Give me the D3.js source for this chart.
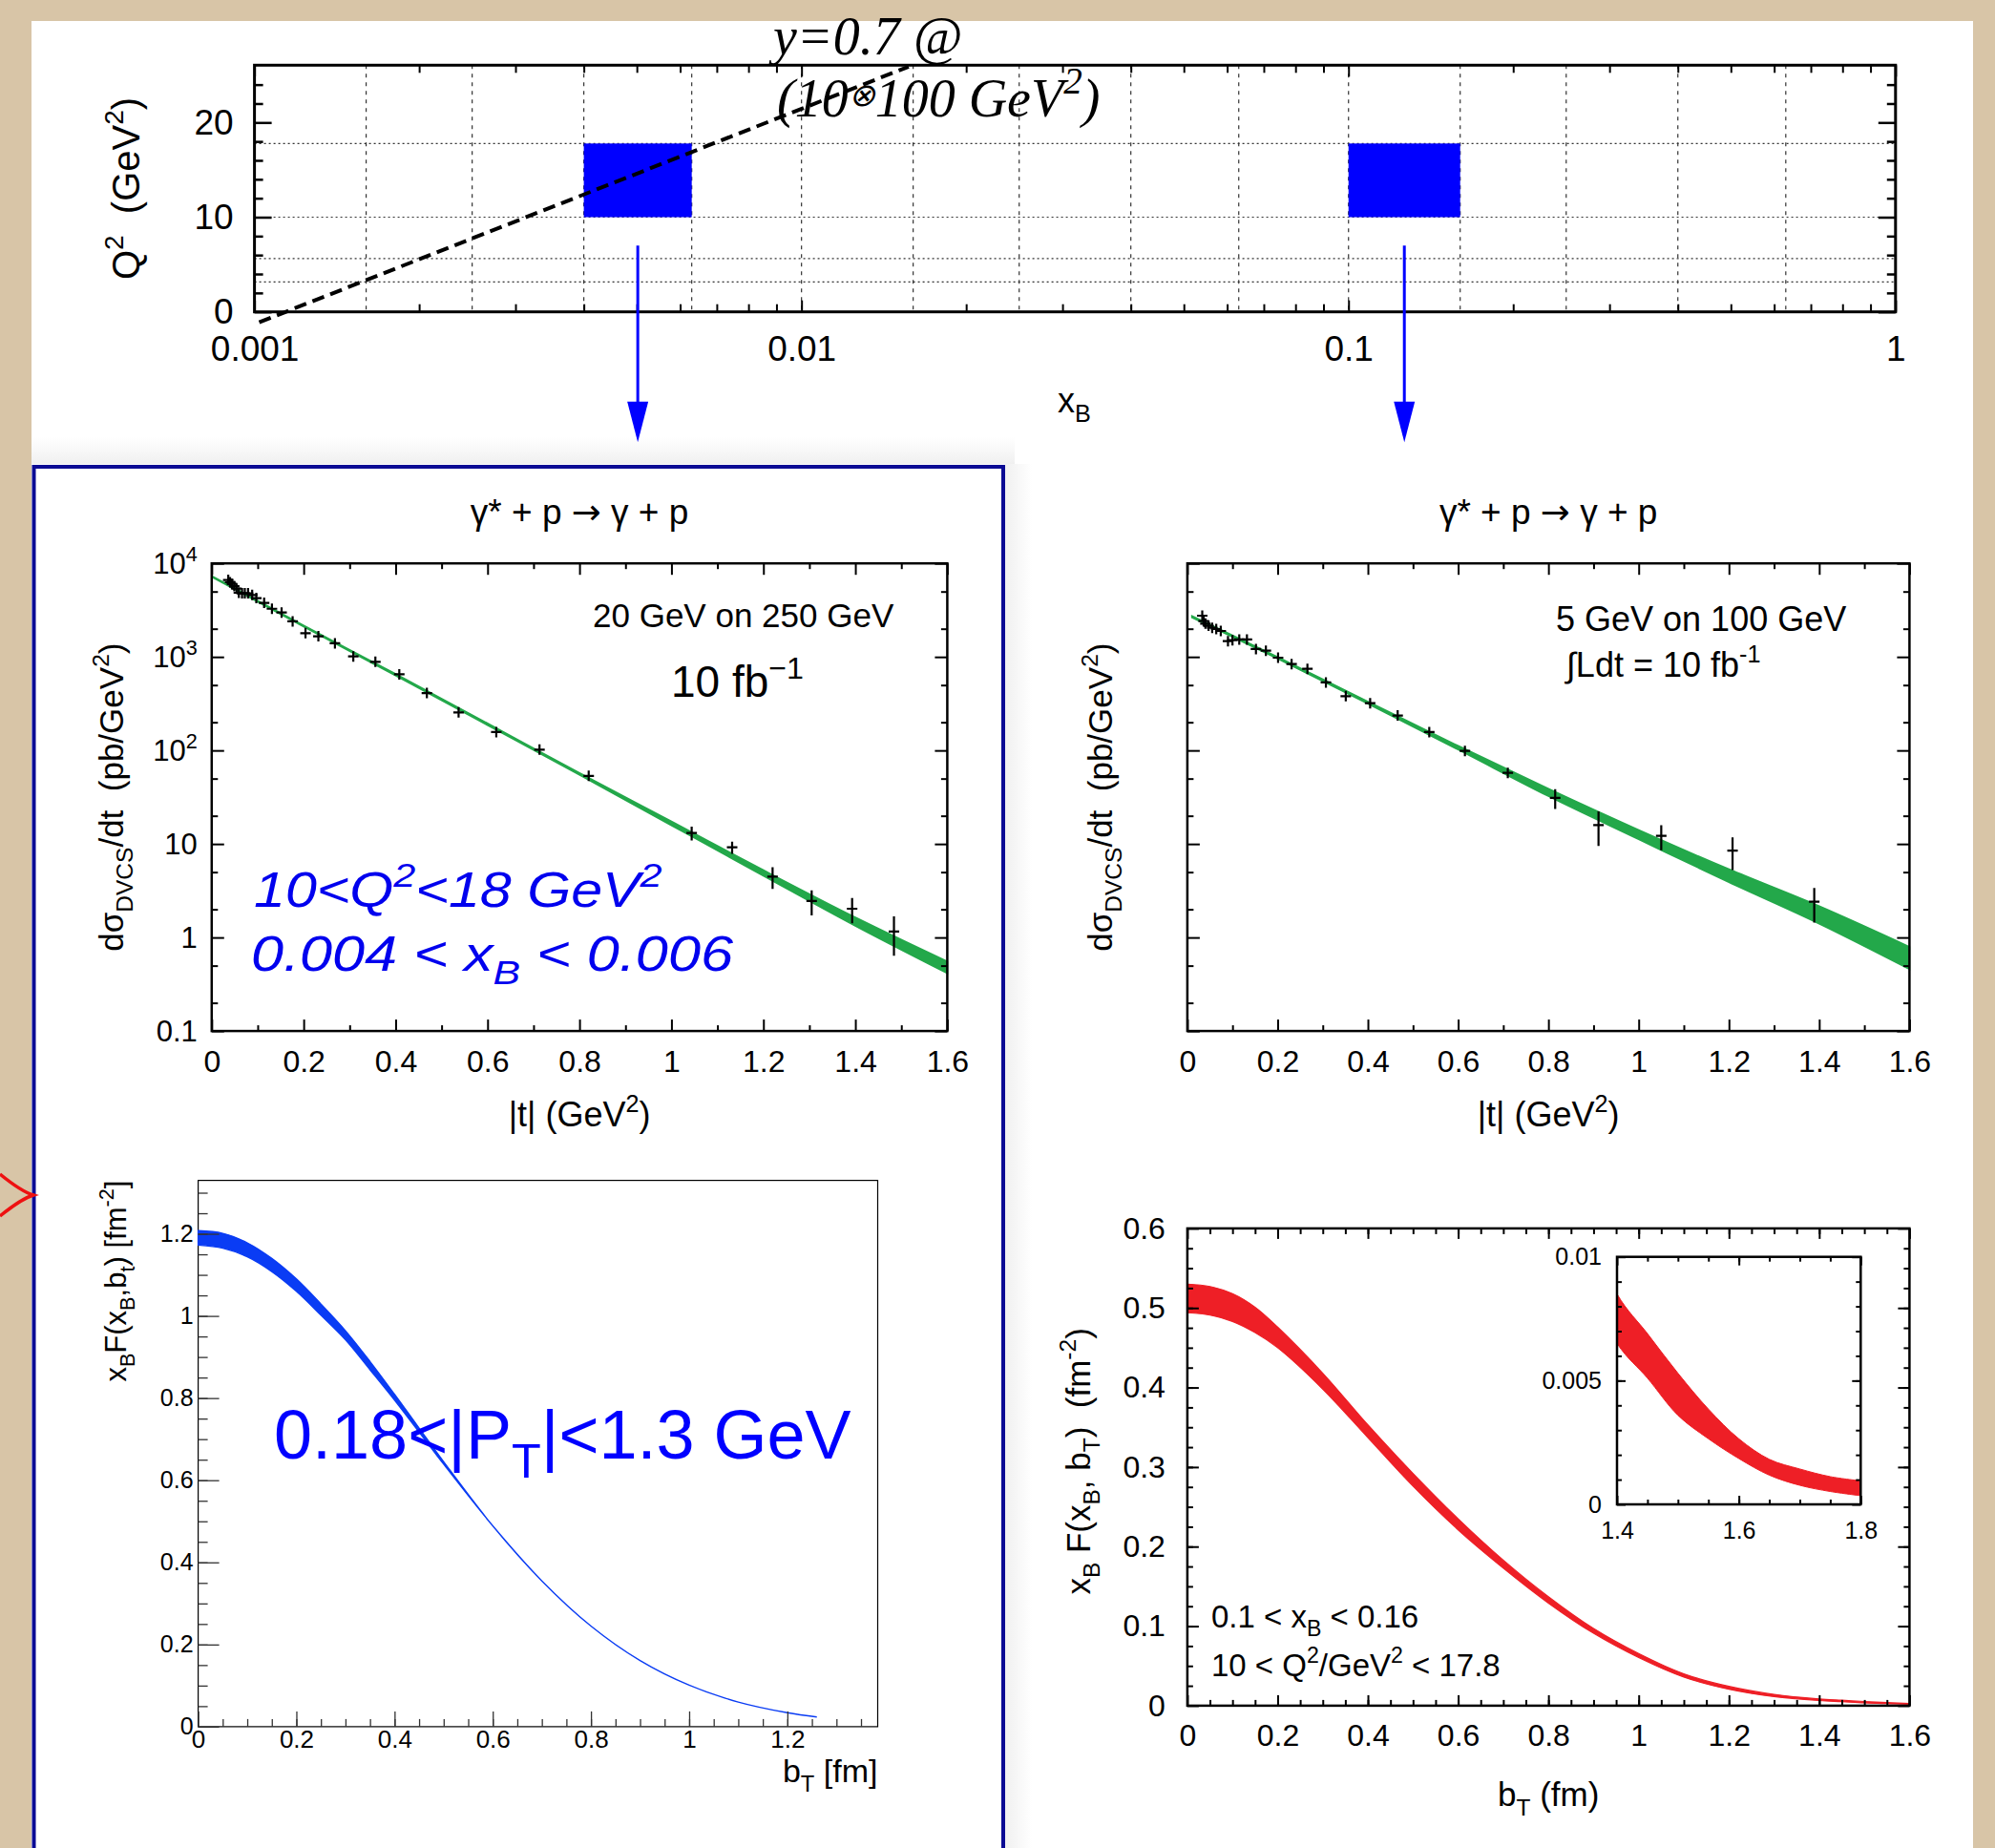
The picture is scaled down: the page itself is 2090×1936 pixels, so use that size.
<!DOCTYPE html>
<html><head><meta charset="utf-8">
<script src="https://cdn.jsdelivr.net/npm/d3@7"></script>
<style>
html,body{margin:0;padding:0;background:#d8c5a7;}
svg{display:block;}
</style></head><body>
<svg id="chart" width="2090" height="1936"></svg>
<script>
// ---------------- DATA ----------------
// Top panel: kinematic plane
const xbMajorTicks = [0.001, 0.01, 0.1, 1];
const xbTickLabels = ["0.001", "0.01", "0.1", "1"];
const q2MajorTicks = [0, 10, 20];
const q2TickLabels = ["0", "10", "20"];
const xbGrid = [0.0016, 0.0025, 0.004, 0.0063, 0.01, 0.016, 0.025, 0.04, 0.063, 0.1, 0.16, 0.25, 0.4, 0.63];
const q2Grid = [3.16, 5.62, 10, 17.78];
const binXLo = [0.004, 0.1];
const binXHi = [0.0063, 0.16];
const binQ2Lo = [10, 10];
const binQ2Hi = [17.78, 17.78];
const yLineXB = [0.00102, 0.0157];
const yLineQ2 = [-1.1, 25.9];
const arrowStartQ2 = 7;

// DVCS cross sections
const tMajorTicks = [0, 0.2, 0.4, 0.6, 0.8, 1, 1.2, 1.4, 1.6];
const tTickLabels = ["0", "0.2", "0.4", "0.6", "0.8", "1", "1.2", "1.4", "1.6"];
const sigMajorTicks = [0.1, 1, 10, 100, 1000, 10000];
const sigTickBase = ["0.1", "1", "10", "10", "10", "10"];
const sigTickExp = ["", "", "", "2", "3", "4"];

const tLeft = [0.036, 0.040, 0.044, 0.049, 0.054, 0.059, 0.066, 0.072, 0.079, 0.088, 0.097, 0.114, 0.131, 0.152, 0.176, 0.204, 0.232, 0.268, 0.308, 0.356, 0.408, 0.468, 0.537, 0.619, 0.713, 0.820, 1.044, 1.132, 1.220, 1.305, 1.393, 1.484];
const sigLeft = [6640, 6280, 6040, 5700, 5370, 4850, 4780, 4780, 4780, 4590, 4250, 3780, 3270, 2980, 2400, 1795, 1660, 1397, 1012, 887, 652, 410, 255, 157, 102, 53.4, 13.1, 9.2, 4.47, 2.46, 2.03, 1.16];
const errLeft = [0.05, 0.05, 0.05, 0.05, 0.05, 0.05, 0.05, 0.05, 0.05, 0.05, 0.05, 0.05, 0.05, 0.05, 0.05, 0.05, 0.05, 0.05, 0.05, 0.05, 0.05, 0.05, 0.05, 0.05, 0.05, 0.07, 0.17, 0.15, 0.26, 0.30, 0.30, 0.45];
const bandTLeft = [0, 0.2, 0.4, 0.6, 0.8, 1.0, 1.2, 1.4, 1.6];
const bandLoLeft = [7145, 2109, 630, 186, 54.7, 15.8, 4.57, 1.33, 0.414];
const bandHiLeft = [7345, 2168, 657, 195, 57.5, 17.4, 5.25, 1.64, 0.554];

const tRight = [0.033, 0.036, 0.040, 0.047, 0.055, 0.064, 0.074, 0.090, 0.100, 0.115, 0.132, 0.152, 0.174, 0.201, 0.231, 0.266, 0.307, 0.351, 0.405, 0.466, 0.536, 0.615, 0.710, 0.815, 0.911, 1.050, 1.208, 1.389];
const sigRight = [2760, 2415, 2270, 2150, 2050, 1985, 1895, 1473, 1510, 1535, 1535, 1213, 1165, 981, 838, 745, 533, 380, 320, 236, 157, 98.7, 57.5, 31.1, 15.9, 12.2, 8.5, 2.41];
const errRight = [0.12, 0.05, 0.05, 0.05, 0.05, 0.05, 0.05, 0.05, 0.05, 0.05, 0.05, 0.05, 0.05, 0.05, 0.05, 0.05, 0.05, 0.05, 0.05, 0.05, 0.05, 0.08, 0.12, 0.24, 0.40, 0.30, 0.38, 0.40];
const bandTRight = [0.01, 0.2, 0.4, 0.6, 0.8, 1.0, 1.2, 1.4, 1.6];
const bandLoRight = [2640, 955, 315, 102, 32.4, 11.2, 3.89, 1.40, 0.457];
const bandHiRight = [2740, 1000, 333, 112, 38.9, 14.1, 5.37, 2.16, 0.794];

// Impact-parameter densities
const bBlue = [0, 0.05, 0.1, 0.15, 0.2, 0.25, 0.3, 0.35, 0.4, 0.45, 0.5, 0.6, 0.7, 0.8, 0.9, 1.0, 1.1, 1.2, 1.26];
const loBlue = [1.1725, 1.165, 1.144, 1.108, 1.060, 1.002, 0.942, 0.869, 0.795, 0.717, 0.639, 0.489, 0.355, 0.245, 0.161, 0.101, 0.060, 0.034, 0.0236];
const hiBlue = [1.2075, 1.201, 1.178, 1.140, 1.090, 1.029, 0.964, 0.889, 0.809, 0.727, 0.645, 0.489, 0.355, 0.245, 0.161, 0.101, 0.060, 0.034, 0.0236];
const bBlueMajor = [0, 0.2, 0.4, 0.6, 0.8, 1, 1.2];
const bBlueLabels = ["0", "0.2", "0.4", "0.6", "0.8", "1", "1.2"];
const fBlueMajor = [0, 0.2, 0.4, 0.6, 0.8, 1, 1.2];
const fBlueLabels = ["0", "0.2", "0.4", "0.6", "0.8", "1", "1.2"];

const bRed = [0, 0.05, 0.1, 0.15, 0.2, 0.3, 0.4, 0.5, 0.6, 0.7, 0.8, 0.9, 1.0, 1.1, 1.2, 1.3, 1.4, 1.45, 1.5, 1.55, 1.6, 1.65, 1.7, 1.75, 1.8];
const hiRed = [0.530, 0.527, 0.518, 0.501, 0.476, 0.418, 0.353, 0.292, 0.235, 0.183, 0.137, 0.097, 0.0655, 0.040, 0.0243, 0.0142, 0.0085, 0.0069, 0.0053, 0.00385, 0.00265, 0.00182, 0.00143, 0.00112, 0.00095];
const loRed = [0.494, 0.491, 0.483, 0.469, 0.450, 0.398, 0.337, 0.276, 0.221, 0.173, 0.129, 0.091, 0.0605, 0.036, 0.0207, 0.0114, 0.0065, 0.0051, 0.0036, 0.00265, 0.00185, 0.00118, 0.00077, 0.00052, 0.00035];
const fRedMajor = [0, 0.1, 0.2, 0.3, 0.4, 0.5, 0.6];
const fRedLabels = ["0", "0.1", "0.2", "0.3", "0.4", "0.5", "0.6"];
const insetBMajor = [1.4, 1.6, 1.8];
const insetBLabels = ["1.4", "1.6", "1.8"];
const insetFMajor = [0, 0.005, 0.01];
const insetFLabels = ["0", "0.005", "0.01"];

// ---------------- HELPERS ----------------
const SANS = "'Liberation Sans', Arial, Helvetica, sans-serif";
const SERIF = "'Liberation Serif', 'Times New Roman', serif";
const svg = d3.select("#chart");
const smooth = d3.curveCatmullRom.alpha(0.5);

function rich(t, parts, fs) {
  let shift = 0;
  parts.forEach(p => {
    const kind = p[1] || "";
    const ts = t.append("tspan").text(p[0]);
    if (p[2]) Object.entries(p[2]).forEach(([k, v]) => ts.attr(k, v));
    let target = 0;
    if (kind === "sub") { target = 0.28 * fs; ts.attr("font-size", 0.7 * fs); }
    else if (kind === "sup") { target = -0.42 * fs; ts.attr("font-size", 0.7 * fs); }
    else if (kind === "mid") { target = -0.2 * fs; ts.attr("font-size", 0.6 * fs); }
    const dy = target - shift;
    if (Math.abs(dy) > 1e-9) ts.attr("dy", dy);
    shift = target;
  });
}
function label(parent, x, y, parts, fs, o = {}) {
  const t = parent.append("text").attr("x", x).attr("y", y)
    .attr("font-size", fs).attr("font-family", o.family || SANS)
    .attr("fill", o.fill || "#000").attr("text-anchor", o.anchor || "start");
  if (o.italic) t.attr("font-style", "italic");
  if (o.rotate) t.attr("transform", `rotate(-90,${x},${y})`);
  if (o.transform) t.attr("transform", o.transform);
  rich(t, parts, fs);
  return t;
}
function axisG(parent, axis, tx, ty, fs, sw, color) {
  const g = parent.append("g").attr("transform", `translate(${tx},${ty})`).call(axis);
  g.select(".domain").remove();
  g.attr("font-family", SANS).attr("font-size", fs);
  g.selectAll(".tick line").attr("stroke", color || "#000").attr("stroke-width", sw);
  g.selectAll(".tick text").attr("fill", "#000");
  return g;
}
const noFmt = () => "";

// ---------------- BACKGROUND ----------------
const defs = svg.append("defs");
const gv = defs.append("linearGradient").attr("id", "shadeV").attr("x1", 0).attr("y1", 0).attr("x2", 0).attr("y2", 1);
gv.append("stop").attr("offset", 0).attr("stop-color", "#fff");
gv.append("stop").attr("offset", 1).attr("stop-color", "#f0f0f0");
const gh = defs.append("linearGradient").attr("id", "shadeH").attr("x1", 0).attr("y1", 0).attr("x2", 1).attr("y2", 0);
gh.append("stop").attr("offset", 0).attr("stop-color", "#f0f0f0");
gh.append("stop").attr("offset", 1).attr("stop-color", "#fff");
svg.append("rect").attr("width", 2090).attr("height", 1936).attr("fill", "#d8c5a7");
svg.append("rect").attr("x", 33).attr("y", 22).attr("width", 2034).attr("height", 1914).attr("fill", "#fff");
svg.append("rect").attr("x", 33).attr("y", 458).attr("width", 1030).attr("height", 28).attr("fill", "url(#shadeV)");
svg.append("rect").attr("x", 1053).attr("y", 486).attr("width", 28).attr("height", 1450).attr("fill", "url(#shadeH)");

// ---------------- TOP PANEL ----------------
{
  const P = { x0: 266.6, x1: 1985.8, y0: 68.3, y1: 326.7 };
  const x = d3.scaleLog().domain([0.001, 1]).range([P.x0, P.x1]);
  const y = d3.scaleLinear().domain([0, 26.05]).range([P.y1, P.y0]);
  const g = svg.append("g");
  g.selectAll(".vg").data(xbGrid).join("line")
    .attr("x1", d => x(d)).attr("x2", d => x(d)).attr("y1", P.y0).attr("y2", P.y1)
    .attr("stroke", "#333").attr("stroke-width", 1.2).attr("stroke-dasharray", "4,5");
  g.selectAll(".hg").data(q2Grid).join("line")
    .attr("x1", P.x0).attr("x2", P.x1).attr("y1", d => y(d)).attr("y2", d => y(d))
    .attr("stroke", "#333").attr("stroke-width", 1.2).attr("stroke-dasharray", "2,3");
  g.selectAll(".bin").data(binXLo).join("rect")
    .attr("x", (d, i) => x(binXLo[i])).attr("width", (d, i) => x(binXHi[i]) - x(binXLo[i]))
    .attr("y", (d, i) => y(binQ2Hi[i])).attr("height", (d, i) => y(binQ2Lo[i]) - y(binQ2Hi[i]))
    .attr("fill", "#0000ff");
  g.append("line")
    .attr("x1", x(yLineXB[0])).attr("y1", y(yLineQ2[0]))
    .attr("x2", x(yLineXB[1])).attr("y2", y(yLineQ2[1]))
    .attr("stroke", "#000").attr("stroke-width", 4).attr("stroke-dasharray", "13,7");
  const minorX = [];
  [-3, -2, -1].forEach(k => { for (let m = 2; m <= 9; m++) minorX.push(m * Math.pow(10, k)); });
  const minorY = d3.range(2, 26, 2).filter(v => v % 10 !== 0);
  axisG(g, d3.axisBottom(x).tickValues(xbMajorTicks).tickSize(-12).tickPadding(25).tickFormat((d, i) => xbTickLabels[i]), 0, P.y1, 37, 2);
  axisG(g, d3.axisBottom(x).tickValues(minorX).tickSize(-8).tickFormat(noFmt), 0, P.y1, 37, 2);
  axisG(g, d3.axisTop(x).tickValues(xbMajorTicks).tickSize(-12).tickFormat(noFmt), 0, P.y0, 37, 2);
  axisG(g, d3.axisTop(x).tickValues(minorX).tickSize(-8).tickFormat(noFmt), 0, P.y0, 37, 2);
  axisG(g, d3.axisLeft(y).tickValues(q2MajorTicks).tickSize(-18).tickPadding(22).tickFormat((d, i) => q2TickLabels[i]), P.x0, 0, 37, 2.5);
  axisG(g, d3.axisLeft(y).tickValues(minorY).tickSize(-9).tickFormat(noFmt), P.x0, 0, 37, 2.5);
  axisG(g, d3.axisRight(y).tickValues(q2MajorTicks).tickSize(-18).tickFormat(noFmt), P.x1, 0, 37, 2.5);
  axisG(g, d3.axisRight(y).tickValues(minorY).tickSize(-9).tickFormat(noFmt), P.x1, 0, 37, 2.5);
  g.append("rect").attr("x", P.x0).attr("y", P.y0).attr("width", P.x1 - P.x0).attr("height", P.y1 - P.y0)
    .attr("fill", "none").attr("stroke", "#000").attr("stroke-width", 3);
  label(g, 146, (P.y0 + P.y1) / 2, [["Q"], ["2", "sup"], ["\u00A0\u00A0(GeV"], ["2", "sup"], [")"]], 40, { anchor: "middle", rotate: true });
  label(g, 1108, 432, [["x"], ["B", "sub"]], 36);
  label(g, 810, 57, [["y=0.7 @"]], 56, { family: SERIF, italic: true });
  label(g, 814, 122, [["(10"], ["\u2297", "mid"], ["100 GeV"], ["2", "sup"], [")"]], 56, { family: SERIF, italic: true });
  binXLo.forEach((lo, i) => {
    const cx = x(Math.sqrt(binXLo[i] * binXHi[i]));
    const ys = y(arrowStartQ2);
    g.append("line").attr("x1", cx).attr("x2", cx).attr("y1", ys).attr("y2", 425)
      .attr("stroke", "#0000ff").attr("stroke-width", 3);
    g.append("path").attr("d", `M${cx - 11},420.7L${cx + 11},420.7L${cx},463.3Z`).attr("fill", "#0000ff");
  });
}

// ---------------- BLUE BOX + RED BRACE ----------------
svg.append("rect").attr("x", 35.5).attr("y", 489).attr("width", 1015.5).attr("height", 1500)
  .attr("fill", "#fff").attr("stroke", "#0b0b94").attr("stroke-width", 4);
svg.append("path").attr("d", "M0,1230 Q22,1248 35,1252 Q22,1256 0,1274")
  .attr("fill", "none").attr("stroke", "#ee1111").attr("stroke-width", 3.5);

// ---------------- DVCS PANELS ----------------
function dvcsPanel(P, ts, sig, err, bT, bLo, bHi, showY) {
  const x = d3.scaleLinear().domain([0, 1.6]).range([P.x0, P.x1]);
  const y = d3.scaleLog().domain([0.1, 1e4]).range([P.y1, P.y0]);
  const g = svg.append("g");
  const area = d3.area().x((d, i) => x(bT[i])).y0((d, i) => y(bLo[i])).y1((d, i) => y(bHi[i])).curve(d3.curveMonotoneX);
  g.append("path").datum(bT).attr("d", area).attr("fill", "#23a84a").attr("stroke", "#23a84a").attr("stroke-width", 1.6);
  ts.forEach((t, i) => {
    const cx = x(t), cy = y(sig[i]);
    const up = Math.min(y(sig[i] * (1 + err[i])), cy - 5.5);
    const dn = Math.max(y(sig[i] * (1 - err[i])), cy + 5.5);
    g.append("path").attr("d", `M${cx - 5.5},${cy}H${cx + 5.5}M${cx},${up}V${dn}`)
      .attr("stroke", "#000").attr("stroke-width", 2.2).attr("fill", "none");
  });
  const minorT = d3.range(0.1, 1.6, 0.2);
  const minorS = [0.2, 0.5, 2, 5, 20, 50, 200, 500, 2000, 5000];
  axisG(g, d3.axisBottom(x).tickValues(tMajorTicks).tickSize(-12).tickPadding(20).tickFormat((d, i) => tTickLabels[i]), 0, P.y1, 32, 2);
  axisG(g, d3.axisBottom(x).tickValues(minorT).tickSize(-6).tickFormat(noFmt), 0, P.y1, 32, 2);
  axisG(g, d3.axisTop(x).tickValues(tMajorTicks).tickSize(-12).tickFormat(noFmt), 0, P.y0, 32, 2);
  axisG(g, d3.axisTop(x).tickValues(minorT).tickSize(-6).tickFormat(noFmt), 0, P.y0, 32, 2);
  axisG(g, d3.axisLeft(y).tickValues(sigMajorTicks).tickSize(-13).tickFormat(noFmt), P.x0, 0, 32, 2);
  axisG(g, d3.axisLeft(y).tickValues(minorS).tickSize(-6.5).tickFormat(noFmt), P.x0, 0, 32, 2);
  axisG(g, d3.axisRight(y).tickValues(sigMajorTicks).tickSize(-13).tickFormat(noFmt), P.x1, 0, 32, 2);
  axisG(g, d3.axisRight(y).tickValues(minorS).tickSize(-6.5).tickFormat(noFmt), P.x1, 0, 32, 2);
  g.append("rect").attr("x", P.x0).attr("y", P.y0).attr("width", P.x1 - P.x0).attr("height", P.y1 - P.y0)
    .attr("fill", "none").attr("stroke", "#000").attr("stroke-width", 2.5);
  if (showY) {
    sigMajorTicks.forEach((v, i) => {
      const parts = [[sigTickBase[i]]];
      if (sigTickExp[i]) parts.push([sigTickExp[i], "sup"]);
      label(g, P.x0 - 15, y(v) + 11, parts, 31, { anchor: "end" });
    });
  }
  const cx = (P.x0 + P.x1) / 2;
  label(g, cx, 549, [["\u03B3* + p "], ["\u2192", "", { "font-family": "'DejaVu Sans', sans-serif" }], [" \u03B3 + p"]], 37, { anchor: "middle" });
  label(g, cx, 1180, [["|t|\u00A0(GeV"], ["2", "sup"], [")"]], 36, { anchor: "middle" });
  return { g, x, y };
}
{
  const P = { x0: 221.8, x1: 992.4, y0: 590.2, y1: 1080.1 };
  const r = dvcsPanel(P, tLeft, sigLeft, errLeft, bandTLeft, bandLoLeft, bandHiLeft, true);
  label(r.g, 129, (P.y0 + P.y1) / 2, [["d\u03C3"], ["DVCS", "sub"], ["/dt\u00A0\u00A0(pb/GeV"], ["2", "sup"], [")"]], 35, { anchor: "middle", rotate: true });
  label(r.g, 621, 657, [["20 GeV on 250 GeV"]], 35);
  label(r.g, 703, 730, [["10 fb"], ["\u22121", "sup"]], 46);
  label(r.g, 0, 0, [["10<Q"], ["2", "sup"], ["<18 GeV"], ["2", "sup"]], 51, { italic: true, fill: "#0000ee", transform: "translate(266,950) scale(1.16,1)" });
  label(r.g, 0, 0, [["0.004 < x"], ["B", "sub"], [" < 0.006"]], 51, { italic: true, fill: "#0000ee", transform: "translate(263,1017) scale(1.2,1)" });
}
{
  const P = { x0: 1243.9, x1: 2000.4, y0: 590.2, y1: 1080.1 };
  const r = dvcsPanel(P, tRight, sigRight, errRight, bandTRight, bandLoRight, bandHiRight, false);
  label(r.g, 1165, (P.y0 + P.y1) / 2, [["d\u03C3"], ["DVCS", "sub"], ["/dt\u00A0\u00A0(pb/GeV"], ["2", "sup"], [")"]], 35, { anchor: "middle", rotate: true });
  label(r.g, 1630, 661, [["5 GeV on 100 GeV"]], 36);
  label(r.g, 1641, 709, [["\u222BLdt = 10 fb"], ["-1", "sup"]], 36);
}

// ---------------- BOTTOM LEFT (blue band) ----------------
{
  const P = { x0: 207.6, x1: 919.5, y0: 1236.6, y1: 1808.9 };
  const x = d3.scaleLinear().domain([0, 1.384]).range([P.x0, P.x1]);
  const y = d3.scaleLinear().domain([0, 1.33]).range([P.y1, P.y0]);
  const g = svg.append("g");
  g.append("rect").attr("x", P.x0).attr("y", P.y0).attr("width", P.x1 - P.x0).attr("height", P.y1 - P.y0)
    .attr("fill", "none").attr("stroke", "#000").attr("stroke-width", 1.2);
  const area = d3.area().x((d, i) => x(bBlue[i])).y0((d, i) => y(loBlue[i])).y1((d, i) => y(hiBlue[i])).curve(smooth);
  g.append("path").datum(bBlue).attr("d", area).attr("fill", "#0a3cf4").attr("stroke", "#0a3cf4").attr("stroke-width", 1.4);
  const minorB = d3.range(0.05, 1.38, 0.05);
  const minorF = d3.range(0.05, 1.33, 0.05);
  axisG(g, d3.axisBottom(x).tickValues(bBlueMajor).tickSize(-16).tickPadding(4).tickFormat((d, i) => bBlueLabels[i]), 0, P.y1, 26, 1.3, "#333");
  axisG(g, d3.axisBottom(x).tickValues(minorB).tickSize(-8).tickFormat(noFmt), 0, P.y1, 26, 1.3, "#333");
  axisG(g, d3.axisLeft(y).tickValues(fBlueMajor).tickSize(-22).tickPadding(5).tickFormat((d, i) => fBlueLabels[i]), P.x0, 0, 25, 1.3, "#333");
  axisG(g, d3.axisLeft(y).tickValues(minorF).tickSize(-10).tickFormat(noFmt), P.x0, 0, 25, 1.3, "#333");
  label(g, P.x1, 1867, [["b"], ["T", "sub"], [" [fm]"]], 34, { anchor: "end" });
  label(g, 132, P.y0, [["x"], ["B", "sub"], ["F(x"], ["B", "sub"], [",b"], ["t", "sub"], [") [fm"], ["-2", "sup"], ["]"]], 31, { anchor: "end", rotate: true });
  label(g, 287, 1528, [["0.18<|P"], ["T", "sub"], ["|<1.3 GeV"]], 72, { fill: "#0000ff" });
}

// ---------------- BOTTOM RIGHT (red band + inset) ----------------
{
  const P = { x0: 1243.9, x1: 2000.4, y0: 1286.9, y1: 1786.9 };
  const x = d3.scaleLinear().domain([0, 1.6]).range([P.x0, P.x1]);
  const y = d3.scaleLinear().domain([0, 0.6]).range([P.y1, P.y0]);
  const g = svg.append("g");
  svg.append("clipPath").attr("id", "clipE").append("rect")
    .attr("x", P.x0).attr("y", P.y0).attr("width", P.x1 - P.x0).attr("height", P.y1 - P.y0);
  const area = d3.area().x((d, i) => x(bRed[i])).y0((d, i) => y(loRed[i])).y1((d, i) => y(hiRed[i])).curve(smooth);
  g.append("path").datum(bRed).attr("d", area).attr("clip-path", "url(#clipE)")
    .attr("fill", "#ee1f26").attr("stroke", "#ee1f26").attr("stroke-width", 1.2);
  const minorB = d3.range(0.05, 1.6, 0.05);
  const minorF = d3.range(0.025, 0.6, 0.025);
  axisG(g, d3.axisBottom(x).tickValues(tMajorTicks).tickSize(-11).tickPadding(19).tickFormat((d, i) => tTickLabels[i]), 0, P.y1, 32, 2);
  axisG(g, d3.axisBottom(x).tickValues(minorB).tickSize(-6).tickFormat(noFmt), 0, P.y1, 32, 2);
  axisG(g, d3.axisTop(x).tickValues(tMajorTicks).tickSize(-11).tickFormat(noFmt), 0, P.y0, 32, 2);
  axisG(g, d3.axisTop(x).tickValues(minorB).tickSize(-6).tickFormat(noFmt), 0, P.y0, 32, 2);
  axisG(g, d3.axisLeft(y).tickValues(fRedMajor).tickSize(-12).tickPadding(23).tickFormat((d, i) => fRedLabels[i]), P.x0, 0, 32, 2);
  axisG(g, d3.axisLeft(y).tickValues(minorF).tickSize(-6).tickFormat(noFmt), P.x0, 0, 32, 2);
  axisG(g, d3.axisRight(y).tickValues(fRedMajor).tickSize(-12).tickFormat(noFmt), P.x1, 0, 32, 2);
  axisG(g, d3.axisRight(y).tickValues(minorF).tickSize(-6).tickFormat(noFmt), P.x1, 0, 32, 2);
  g.append("rect").attr("x", P.x0).attr("y", P.y0).attr("width", P.x1 - P.x0).attr("height", P.y1 - P.y0)
    .attr("fill", "none").attr("stroke", "#000").attr("stroke-width", 2.5);
  label(g, (P.x0 + P.x1) / 2, 1892, [["b"], ["T", "sub"], [" (fm)"]], 35, { anchor: "middle" });
  label(g, 1142, (P.y0 + P.y1) / 2 - 6, [["x"], ["B", "sub"], [" F(x"], ["B", "sub"], [", b"], ["T", "sub"], [")\u00A0\u00A0(fm"], ["-2", "sup"], [")"]], 35, { anchor: "middle", rotate: true });
  label(g, 1269, 1705, [["0.1 < x"], ["B", "sub"], [" < 0.16"]], 33);
  label(g, 1269, 1756, [["10 < Q"], ["2", "sup"], ["/GeV"], ["2", "sup"], [" < 17.8"]], 33);

  // inset
  const I = { x0: 1694, x1: 1949.3, y0: 1316.7, y1: 1576 };
  const xi = d3.scaleLinear().domain([1.4, 1.8]).range([I.x0, I.x1]);
  const yi = d3.scaleLinear().domain([0, 0.01]).range([I.y1, I.y0]);
  svg.append("clipPath").attr("id", "clipI").append("rect")
    .attr("x", I.x0).attr("y", I.y0).attr("width", I.x1 - I.x0).attr("height", I.y1 - I.y0);
  g.append("rect").attr("x", I.x0).attr("y", I.y0).attr("width", I.x1 - I.x0).attr("height", I.y1 - I.y0).attr("fill", "#fff");
  const areaI = d3.area().x((d, i) => xi(bRed[i])).y0((d, i) => yi(loRed[i])).y1((d, i) => yi(hiRed[i])).curve(smooth);
  g.append("path").datum(bRed).attr("d", areaI).attr("clip-path", "url(#clipI)")
    .attr("fill", "#ee1f26").attr("stroke", "#ee1f26").attr("stroke-width", 1);
  const minorBi = d3.range(1.45, 1.8, 0.05);
  const minorFi = d3.range(0.001, 0.01, 0.001);
  axisG(g, d3.axisBottom(xi).tickValues(insetBMajor).tickSize(-9).tickPadding(18).tickFormat((d, i) => insetBLabels[i]), 0, I.y1, 25, 2);
  axisG(g, d3.axisBottom(xi).tickValues(minorBi).tickSize(-5).tickFormat(noFmt), 0, I.y1, 25, 2);
  axisG(g, d3.axisTop(xi).tickValues(insetBMajor).tickSize(-9).tickFormat(noFmt), 0, I.y0, 25, 2);
  axisG(g, d3.axisTop(xi).tickValues(minorBi).tickSize(-5).tickFormat(noFmt), 0, I.y0, 25, 2);
  axisG(g, d3.axisLeft(yi).tickValues(insetFMajor).tickSize(-9).tickPadding(16).tickFormat((d, i) => insetFLabels[i]), I.x0, 0, 25, 2);
  axisG(g, d3.axisLeft(yi).tickValues(minorFi).tickSize(-5).tickFormat(noFmt), I.x0, 0, 25, 2);
  axisG(g, d3.axisRight(yi).tickValues(insetFMajor).tickSize(-9).tickFormat(noFmt), I.x1, 0, 25, 2);
  axisG(g, d3.axisRight(yi).tickValues(minorFi).tickSize(-5).tickFormat(noFmt), I.x1, 0, 25, 2);
  g.append("rect").attr("x", I.x0).attr("y", I.y0).attr("width", I.x1 - I.x0).attr("height", I.y1 - I.y0)
    .attr("fill", "none").attr("stroke", "#000").attr("stroke-width", 2.5);
}
</script>
</body></html>
